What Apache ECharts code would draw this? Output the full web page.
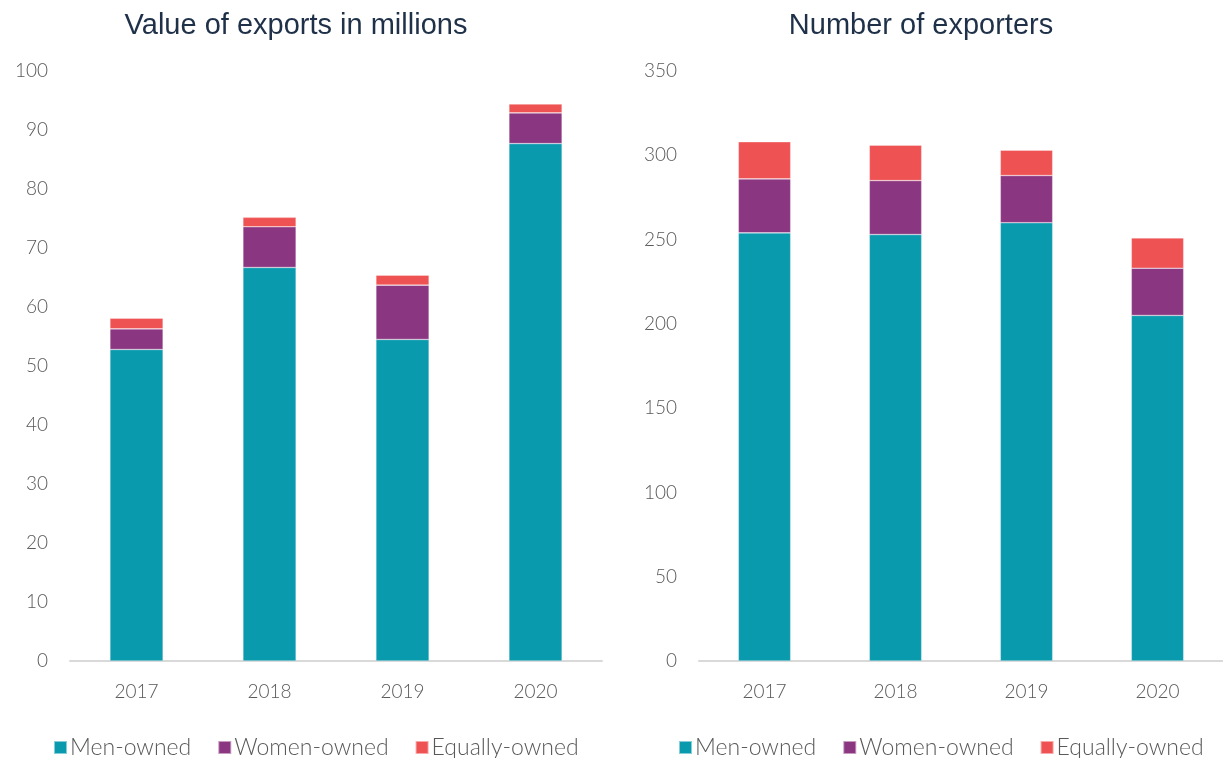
<!DOCTYPE html>
<html>
<head>
<meta charset="utf-8">
<script src="https://cdn.jsdelivr.net/npm/echarts@6/dist/echarts.min.js"></script>
<style>
  html, body { margin: 0; padding: 0; background: #fff; }
  #chart { width: 1223px; height: 758px; }
</style>
</head>
<body>
<div id="chart"></div>
<script>
// Categories and series
const years = ['2017', '2018', '2019', '2020'];
const seriesNames = ['Men-owned', 'Women-owned', 'Equally-owned'];

// Value of exports (millions)
const valueMen = [52.8, 66.7, 54.5, 87.7];
const valueWomen = [3.5, 6.9, 9.2, 5.2];
const valueEqual = [1.8, 1.6, 1.7, 1.5];

// Number of exporters
const countMen = [254, 253, 260, 205];
const countWomen = [32, 32, 28, 28];
const countEqual = [22, 21, 15, 18];

const colors = ['#0a9aae', '#8b3680', '#ef5253'];
const labelFont = 'Lato, "Open Sans", sans-serif';
const labelColor = '#595959';

const chart = echarts.init(document.getElementById('chart'), null, { renderer: 'canvas' });

function yAxis(gridIndex, max, interval) {
  return {
    type: 'value', gridIndex, min: 0, max, interval,
    axisLine: { show: false }, axisTick: { show: false },
    splitLine: { show: false },
    axisLabel: { margin: 22, fontSize: 19, fontWeight: 300, color: labelColor, fontFamily: labelFont }
  };
}
function xAxis(gridIndex) {
  return {
    type: 'category', gridIndex, data: years,
    axisLine: { lineStyle: { color: '#d9d9d9', width: 2 } },
    axisTick: { show: false },
    axisLabel: { margin: 21, fontSize: 19, fontWeight: 300, color: labelColor, fontFamily: labelFont }
  };
}
function bars(axisIndex, stack, datasets) {
  return datasets.map((d, i) => ({
    name: seriesNames[i], type: 'bar', stack,
    xAxisIndex: axisIndex, yAxisIndex: axisIndex,
    barWidth: '40%', data: d,
    itemStyle: { color: colors[i], borderColor: 'rgba(255,255,255,0.5)', borderWidth: 0.6 }
  }));
}
function legend(left) {
  return {
    left, top: 731, itemWidth: 13, itemHeight: 13, itemGap: 26,
    icon: 'rect', data: seriesNames,
    textStyle: { fontSize: 23, fontWeight: 300, color: labelColor, fontFamily: labelFont, padding: [0, 0, 0, -2] }
  };
}

const titleStyle = { fontSize: 29, fontWeight: 'normal', color: '#1f3049', fontFamily: '"Liberation Sans", Arial, sans-serif' };

chart.setOption({
  animation: false,
  color: colors,
  title: [
    { text: 'Value of exports in millions', left: 291, top: 6, textAlign: 'center', textStyle: titleStyle },
    { text: 'Number of exporters', left: 916, top: 6, textAlign: 'center', textStyle: titleStyle }
  ],
  legend: [legend(48), legend(673)],
  grid: [
    { left: 70, top: 71, width: 532, height: 590 },
    { left: 699, top: 71, width: 526, height: 590 }
  ],
  xAxis: [xAxis(0), xAxis(1)],
  yAxis: [yAxis(0, 100, 10), yAxis(1, 350, 50)],
  series: [
    ...bars(0, 'value', [valueMen, valueWomen, valueEqual]),
    ...bars(1, 'count', [countMen, countWomen, countEqual])
  ]
});
</script>
</body>
</html>
